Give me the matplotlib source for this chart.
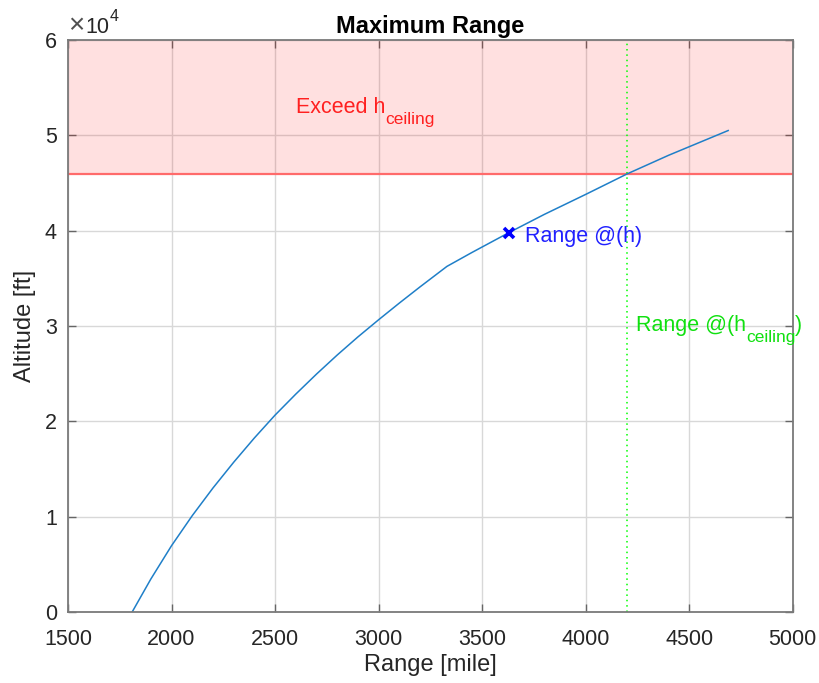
import matplotlib
matplotlib.use('Agg')
from matplotlib import pyplot as plt
from matplotlib.ticker import FuncFormatter
from matplotlib.transforms import offset_copy
import numpy as np

plt.rcParams['font.family'] = ['Liberation Sans', 'DejaVu Sans']

# range [mile] vs altitude [ft]
range_mile = [1810, 1900, 2000, 2100, 2200, 2300, 2400, 2500, 2600, 2700, 2800, 2900,
              3000, 3100, 3200, 3330, 3450, 3630, 3800, 4000, 4200, 4400, 4688]
altitude_ft = [0, 3450, 6950, 10100, 13000, 15700, 18250, 20650, 22850, 24950, 26950, 28850,
               30650, 32400, 34100, 36250, 37700, 39800, 41700, 43800, 45950, 47900, 50500]

h_ceiling = 45930
range_at_ceiling = 4200
range_at_h = 3630
h_point = 39800

fig = plt.figure(figsize=(8.19, 6.83), dpi=100)
ax = fig.add_axes([0.083, 0.104, 0.885, 0.8375])

ax.axhspan(h_ceiling, 60000, color='#ff0000', alpha=0.12, lw=0)
ax.axhline(h_ceiling, color='#ff6b6b', lw=1.6)
ax.axvline(range_at_ceiling, color='#00ff00', lw=1.1, ls=(0, (1, 2.5)))
ax.plot(range_mile, altitude_ft, color='#1f7fc8', lw=1.1)
ax.plot(range_at_h, h_point, 'x', color='blue', ms=7, mew=2.6)

ax.set_xlim(1500, 5000)
ax.set_ylim(0, 60000)
ax.set_xticks(np.arange(1500, 5001, 500))
ax.set_yticks(np.arange(0, 60001, 10000))
ax.yaxis.set_major_formatter(FuncFormatter(lambda v, p: '%d' % round(v / 1e4)))
ax.grid(True, color='#d8d8d8', lw=1)
ax.set_axisbelow(True)
ax.tick_params(direction='in', length=6, width=1, colors='#666666', labelcolor='#262626',
               labelsize=15.5, top=True, right=True)
ax.tick_params(axis='x', pad=12)
ax.tick_params(axis='y', pad=8)
for s in ax.spines.values():
    s.set_color('#7a7a7a')
    s.set_linewidth(1.3)

ax.set_xlabel('Range [mile]', fontsize=17, color='#262626', labelpad=3)
ax.set_ylabel('Altitude [ft]', fontsize=17, color='#262626', labelpad=6)
ax.set_title('Maximum Range', fontsize=17, fontweight='bold', pad=5)

renderer = fig.canvas.get_renderer()


def sub_text(x, y, main, sub, color, after=''):
    # MATLAB style subscript: smaller and dropped well below the baseline
    t = ax.text(x, y, main, color=color, fontsize=15.5, va='baseline')
    w = t.get_window_extent(renderer).width * 72 / fig.dpi
    tr = offset_copy(ax.transData, fig=fig, x=w, y=-8, units='points')
    s = ax.text(x, y, sub, color=color, fontsize=12.5, va='baseline', transform=tr)
    if after:
        ws = s.get_window_extent(renderer).width * 72 / fig.dpi
        tr2 = offset_copy(ax.transData, fig=fig, x=w + ws, y=0, units='points')
        ax.text(x, y, after, color=color, fontsize=15.5, va='baseline', transform=tr2)


sub_text(2601, 52340, 'Exceed h', 'ceiling', '#ff2020')
ax.text(3707, 38850, 'Range @(h)', color='#2020ff', fontsize=15.5, va='baseline')
sub_text(4243, 29480, 'Range @(h', 'ceiling', '#10e010', after=')')

# exponent label above the y axis
ax.text(0.0, 1.012, '\u00d7', transform=ax.transAxes, fontsize=20,
        color='#505050', va='baseline', ha='left')
ax.text(0.0235, 1.012, '10', transform=ax.transAxes, fontsize=15.5,
        color='#262626', va='baseline', ha='left')
ax.text(0.058, 1.033, '4', transform=ax.transAxes, fontsize=11.5,
        color='#262626', va='baseline', ha='left')

fig.savefig('out.png', dpi=100)
